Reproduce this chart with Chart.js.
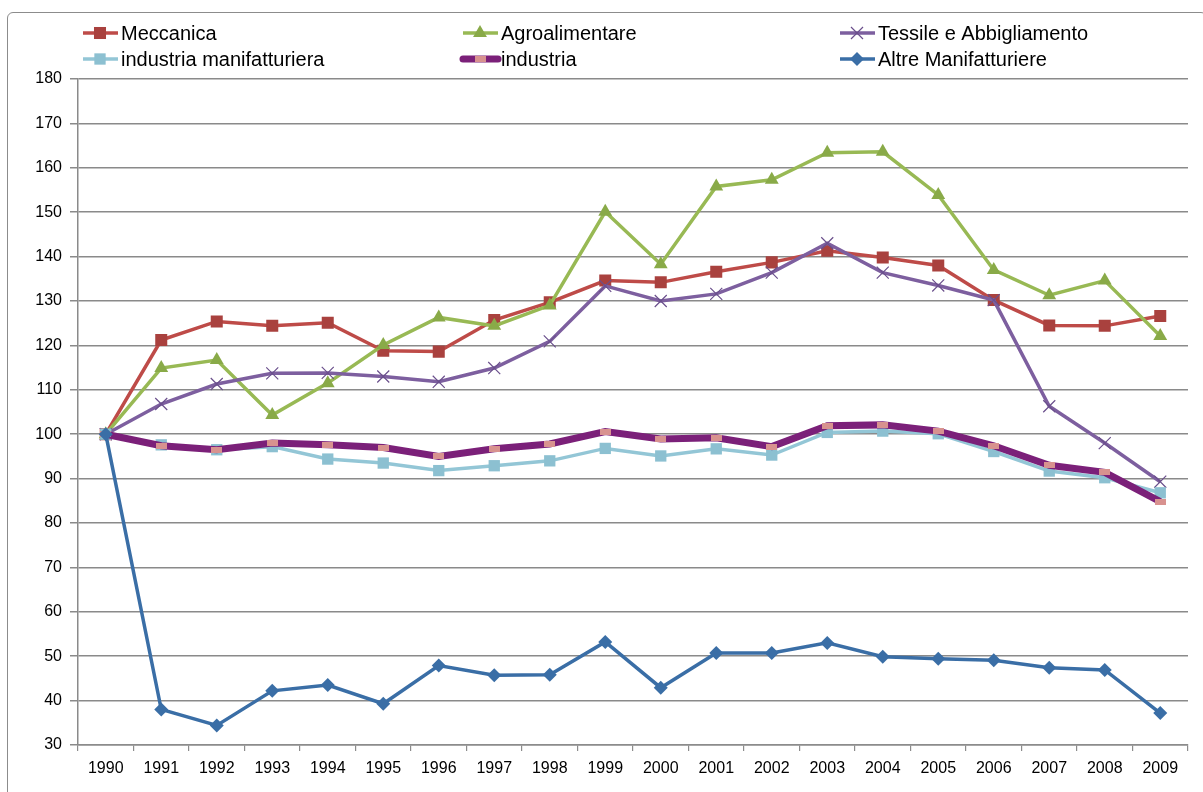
<!DOCTYPE html>
<html>
<head>
<meta charset="utf-8">
<script src="https://cdn.jsdelivr.net/npm/chart.js@4/dist/chart.umd.min.js"></script>
<style>
  html, body { margin: 0; padding: 0; background: #fff; overflow: hidden; }
  #wrap { position: relative; width: 1203px; height: 792px; }
  #frame {
    position: absolute; left: 7px; top: 12px; width: 1200px; height: 800px;
    border: 1px solid #8c8c8c; border-radius: 6px; box-sizing: border-box;
  }
  canvas { position: absolute; left: 0; top: 0; }
</style>
</head>
<body>
<div id="wrap">
  <div id="frame"></div>
  <canvas id="chart" width="1203" height="792"></canvas>
</div>
<script>
const years = ['1990', '1991', '1992', '1993', '1994', '1995', '1996', '1997', '1998', '1999',
  '2000', '2001', '2002', '2003', '2004', '2005', '2006', '2007', '2008', '2009']

const meccanica = [100, 121.2, 125.4, 124.4, 125.1, 118.8, 118.6, 125.7, 129.7, 134.6,
  134.2, 136.6, 138.7, 141.3, 139.8, 138.0, 130.2, 124.5, 124.4, 126.6]
const agroalimentare = [100, 114.9, 116.7, 104.3, 111.5, 120.1, 126.3, 124.4, 129.0, 150.1,
  138.3, 155.8, 157.3, 163.4, 163.6, 153.9, 137.0, 131.3, 134.6, 122.1]
const tessile = [100, 106.8, 111.3, 113.7, 113.8, 113.0, 111.8, 114.9, 120.9, 133.4,
  130.0, 131.6, 136.4, 143.0, 136.4, 133.5, 130.2, 106.3, 98.0, 89.3]
const manifatturiera = [100, 97.6, 96.5, 97.2, 94.4, 93.5, 91.8, 92.9, 94.0, 96.8,
  95.1, 96.7, 95.3, 100.4, 100.7, 100.1, 96.1, 91.7, 90.2, 86.8]
const industria = [100, 97.4, 96.5, 98.0, 97.6, 97.0, 95.0, 96.7, 97.8, 100.6,
  98.9, 99.2, 97.2, 101.9, 102.1, 100.7, 97.4, 93.0, 91.4, 84.8]
const altre = [100, 38.0, 34.4, 42.2, 43.5, 39.3, 47.9, 45.7, 45.8, 53.2,
  42.9, 50.7, 50.7, 53.0, 49.9, 49.4, 49.1, 47.4, 46.9, 37.2]

const yMin = 30
const yMax = 180
const yStep = 10

const FONT = '"Liberation Sans", Arial, sans-serif'

// small pink bar used as the 'industria' marker
function pinkBar() {
  const c = document.createElement('canvas')
  c.width = 11
  c.height = 6
  const g = c.getContext('2d')
  g.fillStyle = '#d8928f'
  g.fillRect(0, 0, 11, 6)
  return c
}
const pinkMarker = pinkBar()

const datasets = [
  { label: 'Meccanica', data: meccanica, borderColor: '#be4b48', backgroundColor: '#a9413e',
    borderWidth: 3.5, pointStyle: 'rect', pointRadius: 8.5, pointBorderWidth: 0, order: 6 },
  { label: 'Agroalimentare', data: agroalimentare, borderColor: '#98b954', backgroundColor: '#89aa48',
    borderWidth: 3.5, pointStyle: 'triangle', pointRadius: 8, pointBorderWidth: 0, order: 5 },
  { label: 'Tessile e Abbigliamento', data: tessile, borderColor: '#7d5f9f', backgroundColor: '#7d5f9f',
    borderWidth: 3.5, pointStyle: 'crossRot', pointRadius: 8.5, pointBorderWidth: 1.2, pointBorderColor: '#6a4f8c', order: 4 },
  { label: 'industria manifatturiera', data: manifatturiera, borderColor: '#93c6d6', backgroundColor: '#8cc0d1',
    borderWidth: 3.5, pointStyle: 'rect', pointRadius: 8, pointBorderWidth: 0, order: 3 },
  { label: 'industria', data: industria, borderColor: '#7b2079', backgroundColor: '#d8928f',
    borderWidth: 7, pointStyle: pinkMarker, pointRadius: 6, pointBorderWidth: 0, order: 2 },
  { label: 'Altre Manifatturiere', data: altre, borderColor: '#3a6ea6', backgroundColor: '#3a6ea6',
    borderWidth: 3.5, pointStyle: 'rectRot', pointRadius: 7, pointBorderWidth: 0, order: 1 }
]

const legendCols = [83, 463, 840]
const legendRows = [33, 59]

function drawLegendMarker(ctx, ds, x, y) {
  ctx.save()
  ctx.fillStyle = ds.backgroundColor
  ctx.strokeStyle = ds.pointBorderColor || ds.borderColor
  if (ds.pointStyle === 'rect') {
    const s = ds.pointRadius * Math.SQRT1_2
    ctx.fillRect(x - s, y - s, 2 * s, 2 * s)
  } else if (ds.pointStyle === 'triangle') {
    const r = ds.pointRadius
    ctx.beginPath()
    ctx.moveTo(x, y - r)
    ctx.lineTo(x + r * 0.866, y + r * 0.5)
    ctx.lineTo(x - r * 0.866, y + r * 0.5)
    ctx.closePath()
    ctx.fill()
  } else if (ds.pointStyle === 'crossRot') {
    const s = ds.pointRadius * Math.SQRT1_2
    ctx.lineWidth = 1.2
    ctx.beginPath()
    ctx.moveTo(x - s, y - s); ctx.lineTo(x + s, y + s)
    ctx.moveTo(x + s, y - s); ctx.lineTo(x - s, y + s)
    ctx.stroke()
  } else if (ds.pointStyle === 'rectRot') {
    const r = ds.pointRadius
    ctx.beginPath()
    ctx.moveTo(x, y - r); ctx.lineTo(x + r, y); ctx.lineTo(x, y + r); ctx.lineTo(x - r, y)
    ctx.closePath()
    ctx.fill()
  } else if (ds.pointStyle instanceof HTMLCanvasElement) {
    ctx.drawImage(ds.pointStyle, x - ds.pointStyle.width / 2, y - ds.pointStyle.height / 2)
  }
  ctx.restore()
}

const legendPlugin = {
  id: 'excelLegend',
  afterDraw(chart) {
    const ctx = chart.ctx
    chart.data.datasets.forEach((ds, i) => {
      const x = legendCols[i % 3]
      const y = legendRows[Math.floor(i / 3)]
      ctx.save()
      ctx.strokeStyle = ds.borderColor
      ctx.lineWidth = ds.borderWidth
      ctx.lineCap = ds.borderWidth > 4 ? 'round' : 'butt'
      ctx.beginPath()
      ctx.moveTo(x, y)
      ctx.lineTo(x + 35, y)
      ctx.stroke()
      ctx.restore()
      drawLegendMarker(ctx, ds, x + 17, y)
      ctx.save()
      ctx.fillStyle = '#000'
      ctx.font = '20px ' + FONT
      ctx.textBaseline = 'middle'
      ctx.fillText(ds.label, x + 38, y + 1)
      ctx.restore()
    })
  }
}

new Chart(document.getElementById('chart'), {
  type: 'line',
  data: { labels: years, datasets },
  options: {
    responsive: false,
    animation: false,
    events: [],
    elements: { line: { tension: 0, fill: false } },
    layout: { padding: { top: 79, right: 15, left: 0, bottom: 0 } },
    plugins: { legend: { display: false }, tooltip: { enabled: false } },
    scales: {
      x: {
        offset: true,
        afterFit: (s) => { s.height = 47 },
        grid: { drawOnChartArea: false, offset: true, tickLength: 6, color: '#8c8c8c', lineWidth: 1.2 },
        border: { color: '#8c8c8c', width: 1.5 },
        ticks: { color: '#000', font: { family: FONT, size: 16 }, padding: 8, maxRotation: 0, autoSkip: false }
      },
      y: {
        min: yMin,
        max: yMax,
        afterFit: (s) => { s.width = 78 },
        grid: { color: '#8a8a8a', lineWidth: 1.5, tickLength: 8 },
        border: { color: '#8a8a8a', width: 1.5 },
        ticks: { stepSize: yStep, color: '#000', font: { family: FONT, size: 16 }, padding: 8 }
      }
    }
  },
  plugins: [legendPlugin]
})
</script>
</body>
</html>
